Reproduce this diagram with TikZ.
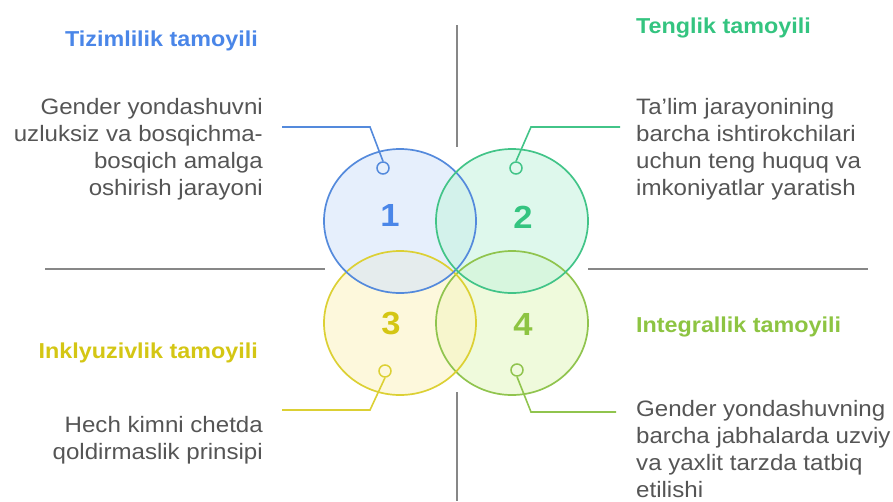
\documentclass[tikz,border=0pt]{standalone}
\usepackage{fontspec}
\setmainfont[FakeStretch=1.08]{Liberation Sans}
\usetikzlibrary{shapes.geometric}

\definecolor{blueT}{RGB}{74,134,232}
\definecolor{blueS}{RGB}{84,138,220}
\definecolor{blueF}{RGB}{214,228,250}
\definecolor{greenT}{RGB}{52,196,128}
\definecolor{greenS}{RGB}{66,196,136}
\definecolor{greenF}{RGB}{200,244,224}
\definecolor{yellowT}{RGB}{212,198,20}
\definecolor{yellowS}{RGB}{220,208,52}
\definecolor{yellowF}{RGB}{252,244,196}
\definecolor{limeT}{RGB}{141,196,66}
\definecolor{limeS}{RGB}{144,196,78}
\definecolor{limeF}{RGB}{228,246,196}
\definecolor{txtgray}{RGB}{85,85,85}
\definecolor{divgray}{RGB}{135,135,135}

\tikzset{
	petal/.style={ellipse,minimum width=152pt,minimum height=144pt,line width=1.7pt},
	num/.style={font=\fontsize{32}{32}\selectfont\bfseries,inner sep=0pt},
	pin/.style={circle,minimum size=12pt,inner sep=0pt,line width=1.5pt},
	title/.style={font=\fontsize{21.6}{24}\selectfont\bfseries,inner sep=0pt},
	desc/.style={font=\fontsize{22.3}{27}\selectfont,text=txtgray,inner sep=0pt},
	divider/.style={draw=divgray,line width=1.2pt},
	leader/.style={line width=1.6pt}
}

\begin{document}
\begin{tikzpicture}[x=1pt,y=-1pt]
	\useasboundingbox (0,0) rectangle (893,501);
	
	%dividers
	\draw[divider] (457,25)--(457,147);
	\draw[divider] (457,392)--(457,501);
	\draw[divider] (45,269)--(325,269);
	\draw[divider] (588,269)--(868,269);
	
	%petals
	\coordinate (c1) at (400,221);
	\coordinate (c2) at (512,221);
	\coordinate (c3) at (400,323);
	\coordinate (c4) at (512,323);
	\foreach \c/\f in {c4/limeF,c3/yellowF,c1/blueF,c2/greenF}
	\fill[\f,fill opacity=0.6] (\c) ellipse [x radius=76pt,y radius=72pt];
	\node[petal,draw=limeS] (p4) at (c4) {};
	\node[petal,draw=yellowS] (p3) at (c3) {};
	\node[petal,draw=blueS] (p1) at (c1) {};
	\node[petal,draw=greenS] (p2) at (c2) {};
	
	%numbers
	\node[num,text=blueT] (n1) at (390,215) {1};
	\node[num,text=greenT] (n2) at (523,217) {2};
	\node[num,text=yellowT] (n3) at (391,323) {3};
	\node[num,text=limeT] (n4) at (523,324) {4};
	
	%pins
	\node[pin,draw=blueS] (m1) at (383,168) {};
	\node[pin,draw=greenS] (m2) at (516,168) {};
	\node[pin,draw=yellowS] (m3) at (385,371) {};
	\node[pin,draw=limeS] (m4) at (517,370) {};
	
	%leaders
	\coordinate (k1) at (370,127); \coordinate (e1) at (282,127);
	\coordinate (k2) at (531,127); \coordinate (e2) at (620,127);
	\coordinate (k3) at (370,410); \coordinate (e3) at (282,410);
	\coordinate (k4) at (531,412); \coordinate (e4) at (616,412);
	\draw[leader,blueS] (m1.north)--(k1)--(e1);
	\draw[leader,greenS] (m2.north)--(k2)--(e2);
	\draw[leader,yellowS] (m3.south)--(k3)--(e3);
	\draw[leader,limeS] (m4.south)--(k4)--(e4);
	
	%labels
	\node[title,text=blueT,anchor=base east] (t1) at (258,46) {Tizimlilik tamoyili};
	\node[desc,align=right,anchor=north east] (d1) at (263,98)
	{Gender yondashuvni\\uzluksiz va bosqichma-\\bosqich amalga\\oshirish jarayoni};
	\node[title,text=greenT,anchor=base west] (t2) at (636,33) {Tenglik tamoyili};
	\node[desc,align=left,anchor=north west] (d2) at (636,98)
	{Ta’lim jarayonining\\barcha ishtirokchilari\\uchun teng huquq va\\imkoniyatlar yaratish};
	\node[title,text=yellowT,anchor=base east] (t3) at (258,358) {Inklyuzivlik tamoyili};
	\node[desc,align=right,anchor=north east] (d3) at (263,416)
	{Hech kimni chetda\\qoldirmaslik prinsipi};
	\node[title,text=limeT,anchor=base west] (t4) at (636,332) {Integrallik tamoyili};
	\node[desc,align=left,anchor=north west] (d4) at (636,400)
	{Gender yondashuvning\\barcha jabhalarda uzviy\\va yaxlit tarzda tatbiq\\etilishi};
\end{tikzpicture}
\end{document}
